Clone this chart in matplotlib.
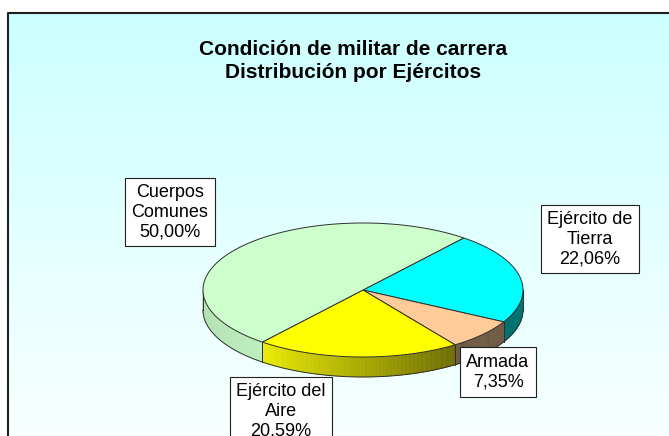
import numpy as np
import matplotlib
matplotlib.use("Agg")
import matplotlib.pyplot as plt
from matplotlib.patches import Polygon
from matplotlib.colors import to_rgb

plt.rcParams['font.family'] = ['Liberation Sans', 'DejaVu Sans']

# data (clockwise order, as drawn)
names = ["Ejército de\nTierra", "Armada", "Ejército del\nAire", "Cuerpos\nComunes"]
counts = [15, 5, 14, 34]
colors = ["#00FFFF", "#FFCC99", "#FFFF00", "#CCFFCC"]
title = "Condición de militar de carrera\nDistribución por Ejércitos"

# label box centres (pixels)
label_xy = [(590, 239), (498, 372), (281, 411), (170, 212)]

W, H = 669, 436
fig = plt.figure(figsize=(W / 100, H / 100), dpi=100)
ax = fig.add_axes([0, 0, 1, 1])
ax.set_xlim(0, W)
ax.set_ylim(H, 0)
ax.axis('off')

# chart area background: vertical gradient, cyan to almost white
top_c = np.array(to_rgb("#CCFFFF"))
bot_c = np.array(to_rgb("#F8FFFF"))
t = np.linspace(0, 1, 200)[:, None]
grad = (top_c * (1 - t) + bot_c * t)[:, None, :]
ax.imshow(grad, extent=(8, W + 5, H, 13), aspect='auto', zorder=0)
ax.plot([8, 8, W + 5], [H + 5, 13, 13], color="#202020", lw=1.5, zorder=1)

# pie geometry
cx, cy, a, b, depth = 363, 290, 160, 67, 20
start = 51.0
total = sum(counts)
fracs = np.array(counts) / total
cum = np.concatenate([[0], np.cumsum(fracs)])
th_start = start - 360 * cum[:-1]
th_end = start - 360 * cum[1:]


def pt(th, dy=0.0):
    r = np.radians(th)
    return cx + a * np.cos(r), cy - b * np.sin(r) + dy


def shade(th):
    phi = np.mod(th, 360)
    return np.interp(phi, [180, 231, 305, 360], [0.87, 0.93, 0.42, 0.46])


edge = "#303030"

# side walls (front half only)
for s, e, col in zip(th_start, th_end, colors):
    base = np.array(to_rgb(col))
    for lo, hi in [(-180, 0), (-540, -360), (180, 360)]:
        a0, a1 = max(e, lo), min(s, hi)
        if a1 <= a0:
            continue
        n = max(int((a1 - a0) / 0.5), 2)
        ths = np.linspace(a0, a1, n + 1)
        for t1, t2 in zip(ths[:-1], ths[1:]):
            x1, y1 = pt(t1)
            x2, y2 = pt(t2)
            c = np.clip(base * shade((t1 + t2) / 2), 0, 1)
            ax.add_patch(Polygon([(x1, y1), (x2, y2), (x2, y2 + depth), (x1, y1 + depth)],
                                 closed=True, fc=c, ec=c, lw=0.4, zorder=2))
        # vertical edges at slice boundaries
        for tb in (a0, a1):
            xb, yb = pt(tb)
            ax.plot([xb, xb], [yb, yb + depth], color=edge, lw=0.7, zorder=3)

ths = np.linspace(-180, 0, 200)
xs, ys = pt(ths, depth)
ax.plot(xs, ys, color=edge, lw=0.7, zorder=3)

# top faces
for s, e, col in zip(th_start, th_end, colors):
    ths = np.linspace(s, e, 120)
    xs, ys = pt(ths)
    verts = [(cx, cy)] + list(zip(xs, ys))
    ax.add_patch(Polygon(verts, closed=True, fc=col, ec=edge, lw=0.7, zorder=4))

# labels
for name, v, (lx, ly) in zip(names, counts, label_xy):
    pct = f"{100 * v / total:.2f}".replace(".", ",") + "%"
    ax.text(lx, ly, f"{name}\n{pct}", ha='center', va='center', multialignment='center',
            fontsize=13, linespacing=1.2, zorder=6,
            bbox=dict(boxstyle='square,pad=0.35', fc='white', ec='#202020', lw=0.8))

ax.text(353, 61, title, ha='center', va='center', fontsize=15, fontweight='bold',
        linespacing=1.25, zorder=6)

fig.savefig("out.png", dpi=100)
